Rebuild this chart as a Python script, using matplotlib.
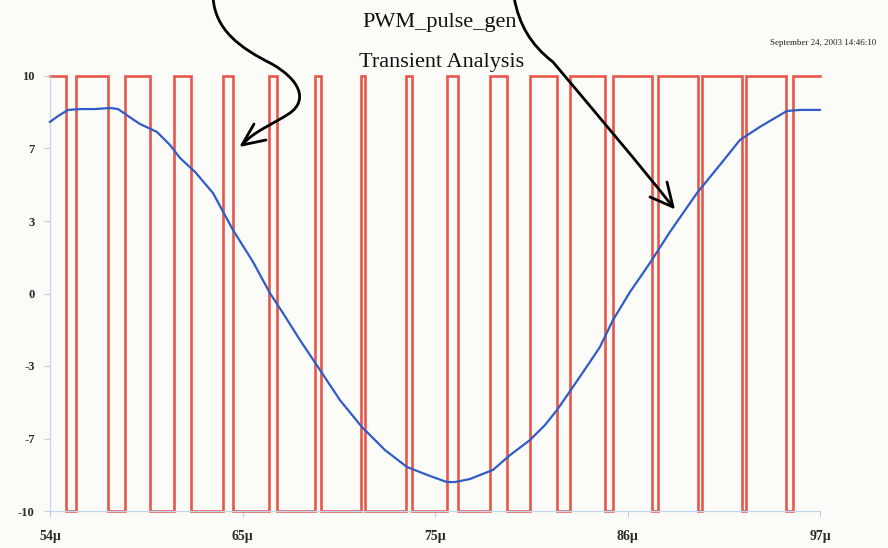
import numpy as np
import matplotlib
matplotlib.use("Agg")
import matplotlib.pyplot as plt
from matplotlib.path import Path
from matplotlib.patches import PathPatch

# ---------------- data ----------------
# PWM output: switching instants (µs), starts high at 54 µs
pwm_edges = [54.89, 55.45, 57.24, 58.19, 59.58, 60.92, 61.87, 63.66, 64.22,
             66.23, 66.68, 68.80, 69.13, 71.37, 71.59, 73.88, 74.21, 76.17,
             76.78, 78.57, 79.52, 80.80, 82.31, 83.04, 84.99, 85.44, 87.62,
             87.95, 90.18, 90.41, 92.64, 92.87, 95.10, 95.49]
pwm_high = 10.0
pwm_low = -10.0

# filtered (sine) output
sine_t = [54.00, 54.45, 55.01, 55.68, 56.51, 57.35, 57.80, 58.36, 59.03, 59.97,
          60.70, 61.26, 62.10, 63.10, 64.22, 65.34, 66.28, 67.01, 67.96, 69.08,
          70.19, 71.42, 72.71, 73.94, 75.22, 76.17, 76.61, 77.45, 78.74, 79.69,
          80.80, 81.64, 82.31, 83.20, 84.15, 84.71, 85.44, 86.39, 87.50, 88.62,
          90.13, 91.41, 92.53, 93.64, 95.15, 95.88, 97.00]
sine_v = [7.89, 8.16, 8.44, 8.48, 8.48, 8.53, 8.48, 8.16, 7.79, 7.43,
          6.83, 6.23, 5.59, 4.62, 2.92, 1.45, 0.02, -0.90, -2.14, -3.52,
          -4.90, -6.14, -7.20, -7.98, -8.39, -8.67, -8.67, -8.53, -8.11, -7.43,
          -6.74, -6.05, -5.36, -4.30, -3.15, -2.46, -1.22, 0.07, 1.40, 2.83,
          4.62, 5.91, 7.06, 7.66, 8.39, 8.44, 8.44]

t_start, t_end = 54.0, 97.0
y_ticklabels = ["-10", "-7", "-3", "0", "3", "7", "10"]
x_ticklabels = ["54\u00b5", "65\u00b5", "75\u00b5", "86\u00b5", "97\u00b5"]

title1 = "PWM_pulse_gen"
title2 = "Transient Analysis"
stamp = "September 24, 2003 14:46:10"

# ---------------- figure ----------------
W, H = 888, 548
bg = "#fbfbf8"
fig = plt.figure(figsize=(W / 100, H / 100), dpi=100, facecolor=bg)
serif = ["Liberation Serif", "DejaVu Serif"]

ax = fig.add_axes([50 / W, 1 - 511 / H, 770 / W, 435 / H])
ax.set_facecolor(bg)

# build step waveform from edges
xs = [t_start]
ys = [pwm_high]
level = pwm_high
for e in pwm_edges:
    xs += [e, e]
    ys += [level, -level if level == pwm_high else pwm_high]
    level = pwm_low if level == pwm_high else pwm_high
xs.append(t_end)
ys.append(level)
ax.plot(xs, ys, color="#e8574c", lw=1.9, clip_on=False, zorder=2,
        solid_joinstyle="miter")

ax.plot(sine_t, sine_v, color="#2f5cc6", lw=1.6, zorder=3, clip_on=False)

ax.set_xlim(t_start, t_end)
ax.set_ylim(-10, 10)
ax.set_yticks(np.linspace(-10, 10, len(y_ticklabels)))
ax.set_yticklabels(y_ticklabels)
ax.set_xticks(np.linspace(t_start, t_end, len(x_ticklabels)))
ax.set_xticklabels(x_ticklabels)
for lab in ax.get_yticklabels() + ax.get_xticklabels():
    lab.set_family(serif)
    lab.set_fontweight("bold")
    lab.set_color("#2a2a2a")
for lab in ax.get_yticklabels():
    lab.set_fontsize(9)
for lab in ax.get_xticklabels():
    lab.set_fontsize(10)
ax.tick_params(axis="y", length=4, width=0.8, color="#bcd0e6", pad=7)
ax.tick_params(axis="x", length=4, width=0.8, color="#bcd0e6", pad=10)
for s in ["top", "right"]:
    ax.spines[s].set_visible(False)
for s in ["left", "bottom"]:
    ax.spines[s].set_color("#c3d5ea")
    ax.spines[s].set_linewidth(0.9)

# titles
fig.text(440 / W, 1 - 22 / H, title1, ha="center", va="center",
         fontsize=16, family=serif, color="#111111")
fig.text(442 / W, 1 - 62 / H, title2, ha="center", va="center",
         fontsize=16, family=serif, color="#111111")
fig.text(876 / W, 1 - 43 / H, stamp, ha="right", va="center",
         fontsize=6.5, family=serif, color="#222222")

# hand-drawn arrows overlay (pixel coordinates)
ov = fig.add_axes([0, 0, 1, 1], facecolor="none")
ov.set_xlim(0, W)
ov.set_ylim(H, 0)
ov.axis("off")

M, C, L = Path.MOVETO, Path.CURVE4, Path.LINETO
arrow1 = Path([(213, -3), (215, 30), (240, 48), (272, 64),
               (300, 80), (308, 100), (290, 113),
               (272, 125), (254, 131), (242, 145)],
              [M, C, C, C, C, C, C, C, C, C])
head1 = Path([(254, 124), (242, 145), (266, 140)], [M, L, L])
arrow2 = Path([(514, -3), (519, 25), (531, 45), (553, 62),
               (600, 118), (640, 165), (673, 207)],
              [M, C, C, C, C, C, C])
head2 = Path([(667, 182), (673, 207), (650, 197)], [M, L, L])
for p in (arrow1, head1, arrow2, head2):
    ov.add_patch(PathPatch(p, facecolor="none", edgecolor="black", lw=2.0,
                           capstyle="round", joinstyle="round"))

fig.savefig("out.png", dpi=100, facecolor=bg)
